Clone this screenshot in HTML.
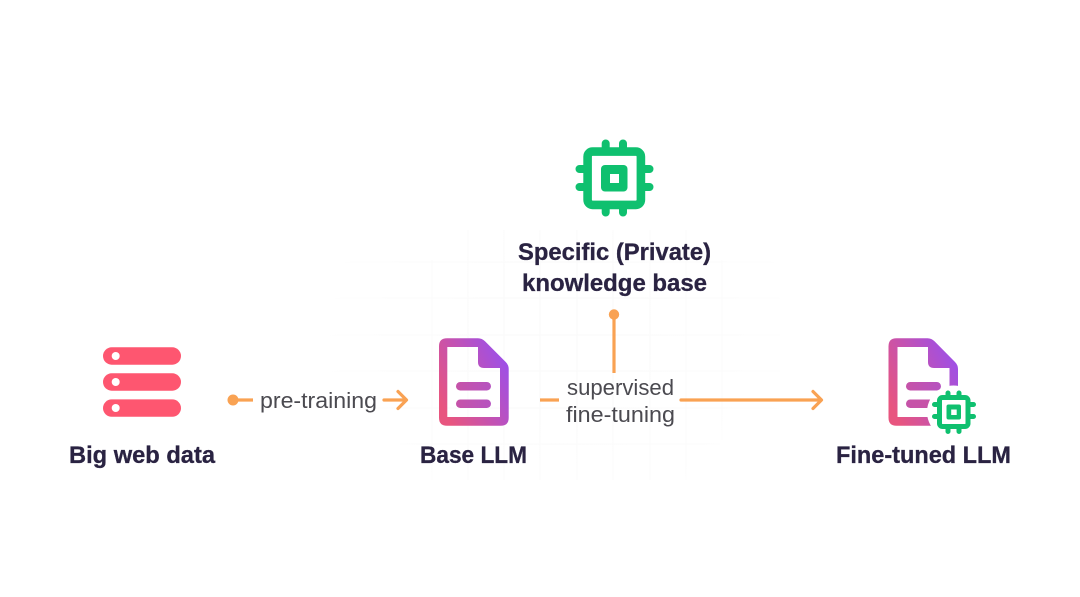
<!DOCTYPE html>
<html lang="en">
<head>
<meta charset="utf-8">
<title>LLM fine-tuning diagram</title>
<style>
html,body{margin:0;padding:0;background:#fff;width:1080px;height:597px;overflow:hidden}
svg{display:block;filter:blur(0.3px)}
.h{font-family:"Liberation Sans",sans-serif;font-weight:700;font-size:24px;fill:#2a2342;stroke:#2a2342;stroke-width:.3px}
.l{font-family:"Liberation Sans",sans-serif;font-size:22px;fill:#4b4a50}
</style>
</head>
<body>
<svg width="1080" height="597" viewBox="0 0 1080 597" xmlns="http://www.w3.org/2000/svg">
<defs>
<linearGradient id="g1" gradientUnits="userSpaceOnUse" x1="439" y1="400" x2="509" y2="365">
<stop offset="0" stop-color="#e8557f"/><stop offset="1" stop-color="#9d4fe8"/>
</linearGradient>
<linearGradient id="g2" gradientUnits="userSpaceOnUse" x1="888" y1="400" x2="960" y2="365">
<stop offset="0" stop-color="#e8557f"/><stop offset="1" stop-color="#9d4fe8"/>
</linearGradient>
<linearGradient id="gb1" gradientUnits="userSpaceOnUse" x1="456" y1="0" x2="491" y2="0">
<stop offset="0" stop-color="#c653a8"/><stop offset="1" stop-color="#b653c0"/>
</linearGradient>
<linearGradient id="gb2" gradientUnits="userSpaceOnUse" x1="906" y1="0" x2="941" y2="0">
<stop offset="0" stop-color="#c653a8"/><stop offset="1" stop-color="#b653c0"/>
</linearGradient>
<radialGradient id="fade" gradientUnits="userSpaceOnUse" cx="560" cy="340" r="240">
<stop offset="0" stop-color="#f9f9f9"/><stop offset="0.7" stop-color="#fbfbfb"/><stop offset="1" stop-color="#ffffff"/>
</radialGradient>
</defs>
<rect width="1080" height="597" fill="#fff"/>

<!-- faint grid -->
<g stroke="url(#fade)" stroke-width="1" fill="none">
<path d="M432 260V480M468 230V480M504 230V480M540 230V480M577 230V480M613 230V480M650 230V480M686 230V480M722 260V440"/>
<path d="M330 262H780M330 298H780M330 335H780M330 371H780M330 408H780M400 444H720"/>
</g>

<!-- Big web data -->
<g fill="#fe5670">
<rect x="103" y="347.300" width="78" height="17.400" rx="8.700"/>
<rect x="103" y="373.300" width="78" height="17.400" rx="8.700"/>
<rect x="103" y="399.400" width="78" height="17.400" rx="8.700"/>
</g>
<g fill="#fff">
<circle cx="115.700" cy="356" r="4"/>
<circle cx="115.700" cy="382" r="4"/>
<circle cx="115.700" cy="408" r="4"/>
</g>
<text class="h" x="69" y="463" textLength="146" lengthAdjust="spacingAndGlyphs">Big web data</text>

<!-- pre-training connector -->
<circle cx="233" cy="400" r="5.500" fill="#f9a253"/>
<path d="M233 400H253" stroke="#f9a253" stroke-width="3.200" fill="none"/>
<text class="l" x="260" y="408" textLength="117" lengthAdjust="spacingAndGlyphs">pre-training</text>
<path d="M384 400H406M398 391.500L406.500 400L398 408.500" stroke="#f9a253" stroke-width="3.200" stroke-linecap="round" stroke-linejoin="round" fill="none"/>

<!-- Base LLM doc -->
<path fill="url(#g1)" fill-rule="evenodd" d="M447 338.300H478Q482 338.300 485 341.300L505.700 362Q508.700 365 508.700 369V417.700Q508.700 425.700 500.700 425.700H447Q439 425.700 439 417.700V346.300Q439 338.300 447 338.300ZM447.300 347V417H500V368H484Q478 368 478 362V347Z"/>
<rect x="456" y="382" width="35" height="8.500" rx="4.250" fill="url(#gb1)"/>
<rect x="456" y="399.500" width="35" height="8.500" rx="4.250" fill="url(#gb1)"/>
<text class="h" x="420" y="463" textLength="107" lengthAdjust="spacingAndGlyphs">Base LLM</text>

<!-- supervised connector -->
<path d="M540 400H559" stroke="#f9a253" stroke-width="3.200" fill="none"/>
<path d="M681 400H821M813 391.500L821.500 400L813 408.500" stroke="#f9a253" stroke-width="3.200" stroke-linecap="round" stroke-linejoin="round" fill="none"/>
<circle cx="614" cy="314.500" r="5.200" fill="#f9a253"/>
<path d="M614 314V373" stroke="#f9a253" stroke-width="3.200" fill="none"/>
<text class="l" x="567" y="395" textLength="107" lengthAdjust="spacingAndGlyphs">supervised</text>
<text class="l" x="566" y="422" textLength="109" lengthAdjust="spacingAndGlyphs">fine-tuning</text>

<!-- Chip -->
<g stroke="#0fc06f" stroke-width="8" stroke-linecap="round" fill="none">
<path d="M605.700 143.500V150M623 143.500V150M605.700 206V212.500M623 206V212.500M579.500 169H586M579.500 187H586M642 169H649.500M642 187H649.500"/>
</g>
<rect x="587.600" y="151.600" width="53.300" height="53.300" rx="5" fill="#fff" stroke="#0fc06f" stroke-width="8.600"/>
<rect x="601" y="165" width="26.500" height="26.500" rx="4" fill="#0fc06f"/>
<rect x="610" y="174" width="9" height="9" fill="#fff"/>
<text class="h" x="518" y="260" textLength="193" lengthAdjust="spacingAndGlyphs">Specific (Private)</text>
<text class="h" x="522" y="291" textLength="185" lengthAdjust="spacingAndGlyphs">knowledge base</text>

<!-- Fine-tuned LLM -->
<path fill="url(#g2)" fill-rule="evenodd" d="M896.500 338.300H927.500Q931.500 338.300 934.500 341.300L955 362Q958 365 958 369V417.700Q958 425.700 950 425.700H896.500Q888.500 425.700 888.500 417.700V346.300Q888.500 338.300 896.500 338.300ZM897.500 347V417H949.500V368H934Q928 368 928 362V347Z"/>
<rect x="906" y="382" width="35" height="8.500" rx="4.250" fill="url(#gb2)"/>
<rect x="906" y="399.500" width="30" height="8.500" rx="4.250" fill="#c653a8"/>
<circle cx="953.500" cy="412" r="26.500" fill="#fff"/>
<g stroke="#0fc06f" stroke-width="5" stroke-linecap="round" fill="none">
<path d="M948 393V397M959 393V397M948 427V431.500M959 427V431.500M934.500 404.500H939M934.500 416.500H939M968 404.500H973.500M968 416.500H973.500"/>
</g>
<rect x="939.500" y="397.500" width="28.500" height="29" rx="3" fill="#fff" stroke="#0fc06f" stroke-width="5"/>
<rect x="946.500" y="404.500" width="14.500" height="15" rx="2" fill="#0fc06f"/>
<rect x="951.200" y="409.500" width="5.500" height="5.500" fill="#fff"/>
<text class="h" x="836" y="463" textLength="175" lengthAdjust="spacingAndGlyphs">Fine-tuned LLM</text>
</svg>
</body>
</html>
